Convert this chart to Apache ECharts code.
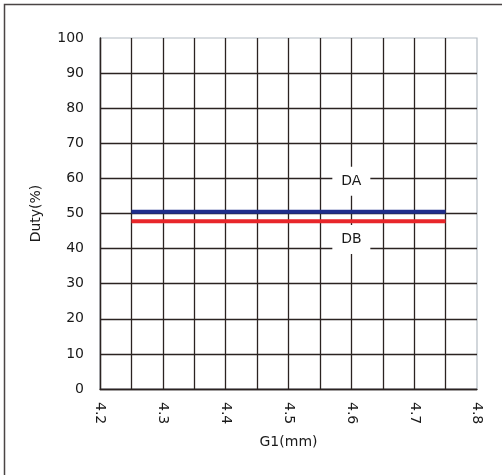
<!DOCTYPE html>
<html>
<head>
<meta charset="utf-8">
<script src="https://cdn.jsdelivr.net/npm/echarts@6/dist/echarts.min.js"></script>
<style>
html,body{margin:0;padding:0;background:#fff;}
#c{width:502px;height:475px;}
</style>
</head>
<body>
<div id="c"></div>
<script>
// Data
var xValues = [4.25, 4.35, 4.45, 4.55, 4.65, 4.75];
var daValues = [50.5, 50.5, 50.5, 50.5, 50.5, 50.5];
var dbValues = [47.8, 47.8, 47.8, 47.8, 47.8, 47.8];
var seriesNames = ['DA', 'DB'];
var labelX = 4.6;
var labelY = [59.2, 42.6];
var xTicks = [4.2, 4.3, 4.4, 4.5, 4.6, 4.7, 4.8];
var yTicks = [0, 10, 20, 30, 40, 50, 60, 70, 80, 90, 100];

var FONT = 'DejaVu Sans';
var TXT = '#1a1a1a';
var GRIDC = '#2b2321';

function pairs(xs, ys) { return xs.map(function (x, i) { return [x, ys[i]]; }); }

var chart = echarts.init(document.getElementById('c'), null, {renderer: 'canvas'});
chart.setOption({
  animation: false,
  backgroundColor: '#fff',
  graphic: [{
    type: 'rect',
    shape: {x: 4.5, y: 4.5, width: 600, height: 600},
    style: {fill: 'none', stroke: '#4a4444', lineWidth: 1.5},
    silent: true,
    z: 0
  }],
  grid: {
    left: 100, right: 25, top: 38, bottom: 86,
    show: true, borderColor: '#b4bcc4', borderWidth: 1.2, backgroundColor: 'transparent'
  },
  xAxis: {
    type: 'value',
    min: xTicks[0], max: xTicks[xTicks.length - 1], interval: 0.1,
    name: 'G1(mm)', nameLocation: 'middle', nameGap: 46,
    nameTextStyle: {fontFamily: FONT, fontSize: 14, color: TXT},
    axisLine: {show: true, lineStyle: {color: GRIDC, width: 1.3}},
    axisTick: {show: false},
    axisLabel: {rotate: -90, margin: 13, fontFamily: FONT, fontSize: 14, color: TXT,
      formatter: function (v) { return (Math.round(v * 10) / 10).toFixed(1); }},
    splitLine: {show: true, showMaxLine: false, lineStyle: {color: GRIDC, width: 1.3}},
    minorTick: {show: false, splitNumber: 2},
    minorSplitLine: {show: true, lineStyle: {color: GRIDC, width: 1.3}}
  },
  yAxis: {
    type: 'value',
    min: yTicks[0], max: yTicks[yTicks.length - 1], interval: 10,
    name: 'Duty(%)', nameLocation: 'middle', nameGap: 57,
    nameTextStyle: {fontFamily: FONT, fontSize: 14, color: TXT},
    axisLine: {show: true, lineStyle: {color: GRIDC, width: 1.3}},
    axisTick: {show: false},
    axisLabel: {margin: 16, fontFamily: FONT, fontSize: 14, color: TXT},
    splitLine: {show: true, showMaxLine: false, lineStyle: {color: GRIDC, width: 1.3}}
  },
  series: [{
    name: seriesNames[0],
    type: 'line',
    data: pairs(xValues, daValues),
    showSymbol: false,
    lineStyle: {color: '#1f2d8c', width: 4},
    itemStyle: {color: '#1f2d8c'},
    z: 3,
    markPoint: {
      symbol: 'rect', symbolSize: [38, 29],
      itemStyle: {color: '#fff'},
      label: {show: true, formatter: seriesNames[0], fontFamily: FONT, fontSize: 14, color: TXT},
      data: [{coord: [labelX, labelY[0]]}]
    }
  }, {
    name: seriesNames[1],
    type: 'line',
    data: pairs(xValues, dbValues),
    showSymbol: false,
    lineStyle: {color: '#e8262a', width: 4},
    itemStyle: {color: '#e8262a'},
    z: 3,
    markPoint: {
      symbol: 'rect', symbolSize: [38, 29],
      itemStyle: {color: '#fff'},
      label: {show: true, formatter: seriesNames[1], fontFamily: FONT, fontSize: 14, color: TXT},
      data: [{coord: [labelX, labelY[1]]}]
    }
  }]
});
</script>
</body>
</html>
